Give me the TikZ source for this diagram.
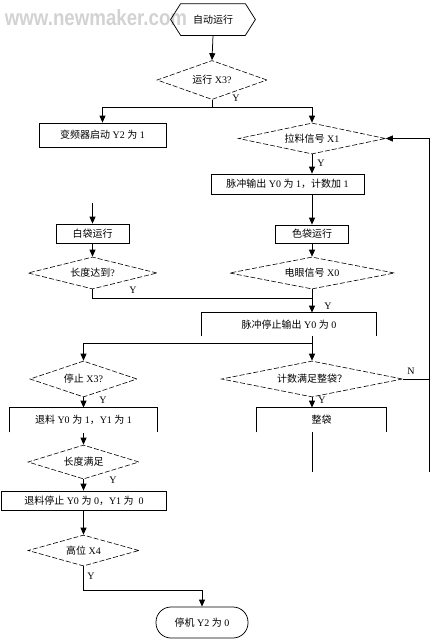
\documentclass[tikz,border=0pt]{standalone}
\usepackage{fontspec}
\setmainfont{Liberation Serif}
\newfontfamily\cjk{Noto Sans CJK SC}
\newfontfamily\wmfont{Liberation Sans}
\newcommand{\zh}[1]{{\cjk #1}}
\usetikzlibrary{shapes.geometric,arrows.meta,calc}
\begin{document}
\begin{tikzpicture}[x=1pt,y=-1pt,
  font=\fontsize{10}{12}\selectfont,
  line width=0.75pt,
  arr/.style={-{Triangle[length=7pt,width=6pt]}},
  box/.style={draw, rectangle, inner sep=0pt},
  obox/.style={rectangle, inner sep=0pt},
  dec/.style={diamond, draw, line width=0.6pt, dash pattern=on 5pt off 2pt, inner sep=0pt},
  lbl/.style={inner sep=0pt},
  wm/.style={font=\wmfont\bfseries\fontsize{22}{22}\selectfont, text=gray!35, inner sep=0pt, xscale=0.85}]
\useasboundingbox (0,0) rectangle (435,640);

% watermark
\node[wm] (wmk) at (96,18) {www.newmaker.com};

% start hexagon
\node[obox, minimum width=84pt, minimum height=31pt] (start) at (213,19.5) {\zh{自动运行}};
\draw (start.west) -- ($(start.north west)+(10,0)$) -- ($(start.north east)+(-10,0)$) -- (start.east)
  -- ($(start.south east)+(-10,0)$) -- ($(start.south west)+(10,0)$) -- cycle;

\node[dec, minimum width=110pt, minimum height=39pt, aspect=2.8] (d1) at (212,80) {\zh{运行} X3?};
\draw[arr] (start.south) -- (d1.north);
\node[lbl] (y1) at (236,98) {Y};
\coordinate (j1) at (212,107);
\draw (d1.south) -- (j1);

\node[box, minimum width=127pt, minimum height=24pt] (b1) at (102.5,135) {\zh{变频器启动} Y2 \zh{为} 1};
\node[dec, minimum width=147pt, minimum height=31pt, aspect=4.7] (d2) at (312,138.5) {\zh{拉料信号} X1};
\draw[arr] (j1) -| (b1.north);
\draw[arr] (j1) -| (d2.north);

\node[lbl] (y2) at (321,163) {Y};
\node[box, minimum width=153pt, minimum height=20pt] (b2) at (287.5,184) {\zh{脉冲输出} Y0 \zh{为} 1\zh{，}\zh{计数加} 1};
\draw[arr] (d2.south) -- (d2.south |- b2.north);

\node[box, minimum width=73pt, minimum height=18pt] (b3) at (312,234) {\zh{色袋运行}};
\draw[arr] (b2.south -| b3.north) -- (b3.north);

\coordinate (c0) at (92.5,203);
\node[box, minimum width=73pt, minimum height=19pt] (b4) at (92.5,233.5) {\zh{白袋运行}};
\draw[arr] (c0) -- (b4.north);

\node[dec, minimum width=129pt, minimum height=32pt, aspect=4] (d3) at (92.5,273) {\zh{长度达到}?};
\node[dec, minimum width=165pt, minimum height=32pt, aspect=5] (d4) at (312,273) {\zh{电眼信号} X0};
\draw[arr] (b4.south) -- (d3.north);
\draw[arr] (b3.south) -- (d4.north);

\node[lbl] (y3) at (133,290) {Y};
\coordinate (j2) at (312,298);
\draw (d3.south) |- (j2);

% open-bottom box
\node[obox, minimum width=174pt, minimum height=23pt] (b5) at (289,324.5) {\zh{脉冲停止输出} Y0 \zh{为} 0};
\draw (b5.south west) -- (b5.north west) -- (b5.north east) -- (b5.south east);
\draw[arr] (d4.south) -- (d4.south |- b5.north);
\node[lbl] (y4) at (328,306) {Y};

\node[dec, minimum width=107pt, minimum height=36pt, aspect=3] (d5) at (83.5,379) {\zh{停止} X3?};
\node[dec, minimum width=181pt, minimum height=36pt, aspect=5] (d6) at (312,379) {\zh{计数满足整袋？}};
\coordinate (j3) at (312,343);
\draw[arr] (b5.south -| d6.north) -- (d6.north);
\draw[arr] (j3) -| (d5.north);

% N loop back
\coordinate (rx) at (429,0);
\coordinate (rbot) at (429,472);
\node[lbl] (n1) at (411,371) {N};
\draw[arr] (d6.east) -- (d6.east -| rx) -- (d2.east -| rx) -- (d2.east);
\draw (d6.east -| rx) -- (rbot);

\node[lbl] (y5) at (103,400) {Y};
\node[lbl] (y6) at (322,400) {Y};
\node[obox, minimum width=147pt, minimum height=24pt] (b6) at (83.5,420) {\zh{退料} Y0 \zh{为} 1\zh{，}Y1 \zh{为} 1};
\draw (b6.south west) -- (b6.north west) -- (b6.north east) -- (b6.south east);
\node[obox, minimum width=129pt, minimum height=24pt] (b7) at (321.5,420) {\zh{整袋}};
\draw (b7.south west) -- (b7.north west) -- (b7.north east) -- (b7.south east);
\draw[arr] (d5.south) -- (d5.south |- b6.north);
\draw[arr] (d6.south) -- (d6.south |- b7.north);
\coordinate (c7) at (312,472);
\draw (b7.south -| c7) -- (c7);

\node[dec, minimum width=111pt, minimum height=34pt, aspect=3.3] (d7) at (83.5,462) {\zh{长度满足}};
\draw[arr] (b6.south) ++(0,1) -- (d7.north);
\node[lbl] (y7) at (113,480) {Y};

\node[box, minimum width=165pt, minimum height=19pt] (b8) at (84,500.5) {\zh{退料停止} Y0 \zh{为} 0\zh{，}Y1 \zh{为}\ \ 0};
\draw[arr] (d7.south) -- (d7.south |- b8.north);

\node[dec, minimum width=111pt, minimum height=31pt, aspect=3.6] (d8) at (83.5,550.5) {\zh{高位} X4};
\draw[arr] (b8.south -| d8.north) -- (d8.north);
\node[lbl] (y8) at (91,576) {Y};

\node[draw, rectangle, rounded corners=15pt, minimum width=92pt, minimum height=31pt, inner sep=0pt] (end) at (202,622.5) {\zh{停机} Y2 \zh{为} 0};
\coordinate (j4) at (83.5,590);
\draw[arr] (d8.south) -- (j4) -| (end.north);
\end{tikzpicture}
\end{document}
